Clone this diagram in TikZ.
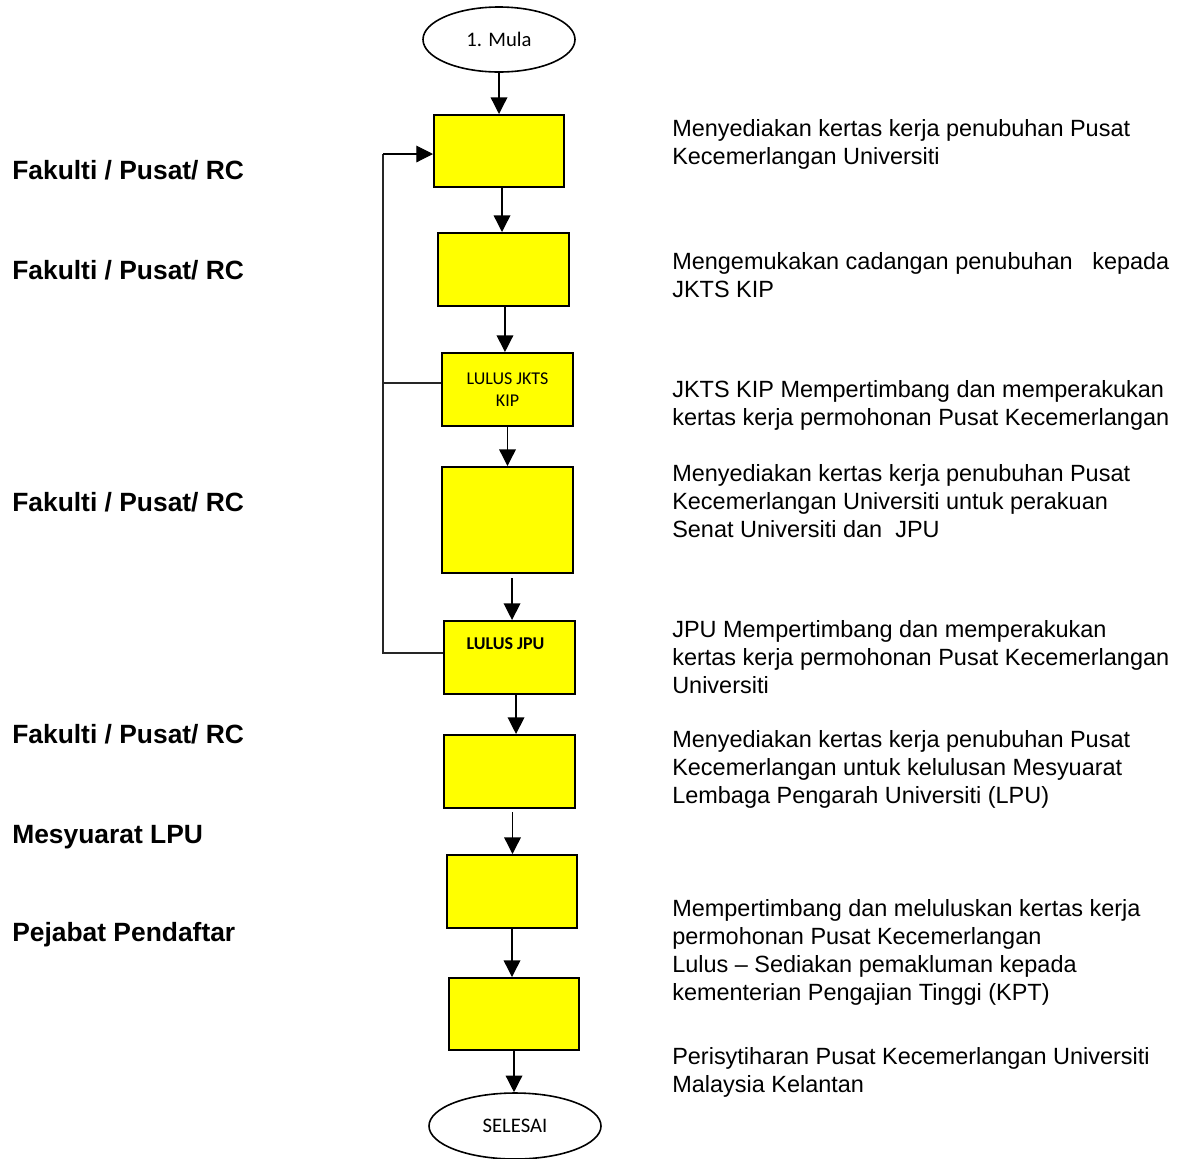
\documentclass[tikz,border=0pt]{standalone}
\usepackage{fontspec}
\setmainfont{Liberation Sans}
\newfontfamily\calib{Carlito}
\usetikzlibrary{arrows.meta,shapes.geometric}
\definecolor{yel}{RGB}{255,255,0}
\begin{document}
\begin{tikzpicture}[x=0.75pt,y=-0.75pt,
  box/.style={draw, fill=yel, line width=1.5pt, inner sep=0pt, font=\calib\fontsize{13.5}{17}\selectfont, align=center},
  term/.style={draw, ellipse, line width=1.2pt, inner sep=0pt, font=\calib\fontsize{15.5}{18}\selectfont},
  arr/.style={line width=1pt, -{Triangle[width=12.5pt,length=12.5pt]}},
  fb/.style={line width=0.8pt, draw=black!85},
  who/.style={anchor=base west, inner sep=0pt, font=\bfseries\fontsize{19.8}{22}\selectfont},
  desc/.style={anchor=base west, inner sep=0pt, align=left, font=\fontsize{17.6}{20.8}\selectfont}]
\useasboundingbox (0,0) rectangle (1191,1158);

% terminals
\node[term, minimum width=114pt, minimum height=48.75pt] (mula) at (499,39.5) {1. Mula};
\node[term, minimum width=129pt, minimum height=49.5pt] (end) at (515,1126) {SELESAI};

% boxes
\node[box, minimum width=97.5pt, minimum height=54pt] (b1) at (499,151) {};
\node[box, minimum width=98.25pt, minimum height=54.75pt] (b2) at (503.5,269.5) {};
\node[box, minimum width=98.25pt, minimum height=54.75pt] (b3) at (507.5,389.5) {LULUS JKTS\\KIP};
\node[box, minimum width=98.25pt, minimum height=79.5pt] (b4) at (507.5,520) {};
\node[box, minimum width=98.25pt, minimum height=54.75pt] (b5) at (509.5,657.5) {};
\node[inner sep=0pt, font=\calib\bfseries\fontsize{13.5}{17}\selectfont] (b5t) at (505.5,644) {LULUS JPU};
\node[box, minimum width=98.25pt, minimum height=54.75pt] (b6) at (509.5,771.5) {};
\node[box, minimum width=97.5pt, minimum height=54.75pt] (b7) at (512,891.5) {};
\node[box, minimum width=97.5pt, minimum height=54pt] (b8) at (514,1014) {};

% main flow
\draw[arr] (mula.south) -- (b1.north);
\draw[arr] ([xshift=2.25pt]b1.south) -- ([xshift=2.25pt]b1.south |- b2.north);
\draw[arr] ([xshift=1.1pt]b2.south) -- ([xshift=1.1pt]b2.south |- b3.north);
\draw[arr] (b3.south) -- (b4.north);
\draw[arr] ([xshift=3.4pt,yshift=-3pt]b4.south) -- ([xshift=3.4pt]b4.south |- b5.north);
\draw[arr] ([xshift=4.9pt]b5.south) -- ([xshift=4.9pt]b5.south |- b6.north);
\draw[arr] ([xshift=2.25pt,yshift=-2.25pt]b6.south) -- ([xshift=2.25pt]b6.south |- b7.north);
\draw[arr] (b7.south) -- (b7.south |- b8.north);
\draw[arr] (b8.south) -- (b8.south |- end.north);

% feedback loop
\coordinate (lp) at (383,0);
\draw[fb] ([yshift=3.4pt]b5.west) -- ([yshift=3.4pt]b5.west -| lp) -- ([yshift=-2.25pt]b1.west -| lp);
\draw[fb] ([yshift=4.9pt]b3.west) -- ([yshift=4.9pt]b3.west -| lp);
\draw[arr, line width=0.8pt] ([yshift=-2.25pt]b1.west -| lp) -- ([yshift=-2.25pt]b1.west);

% responsible parties
\node[who] (w1) at (12,179) {Fakulti / Pusat/ RC};
\node[who] (w2) at (12,279) {Fakulti / Pusat/ RC};
\node[who] (w3) at (12,511) {Fakulti / Pusat/ RC};
\node[who] (w4) at (12,743) {Fakulti / Pusat/ RC};
\node[who] (w5) at (12,843) {Mesyuarat LPU};
\node[who] (w6) at (12,941) {Pejabat Pendaftar};

% descriptions (anchored at the baseline of the last line)
\node[desc] (d1) at (672,164) {Menyediakan kertas kerja penubuhan Pusat\\Kecemerlangan Universiti};
\node[desc] (d2) at (672,297) {Mengemukakan cadangan penubuhan \ \ kepada\\JKTS KIP};
\node[desc] (d3) at (672,425) {JKTS KIP Mempertimbang dan memperakukan\\kertas kerja permohonan Pusat Kecemerlangan};
\node[desc] (d4) at (672,537) {Menyediakan kertas kerja penubuhan Pusat\\Kecemerlangan Universiti untuk perakuan\\Senat Universiti dan \ JPU};
\node[desc] (d5) at (672,693) {JPU Mempertimbang dan memperakukan\\kertas kerja permohonan Pusat Kecemerlangan\\Universiti};
\node[desc] (d6) at (672,803) {Menyediakan kertas kerja penubuhan Pusat\\Kecemerlangan untuk kelulusan Mesyuarat\\Lembaga Pengarah Universiti (LPU)};
\node[desc] (d7) at (672,1000) {Mempertimbang dan meluluskan kertas kerja\\permohonan Pusat Kecemerlangan\\Lulus – Sediakan pemakluman kepada\\kementerian Pengajian Tinggi (KPT)};
\node[desc] (d8) at (672,1092) {Perisytiharan Pusat Kecemerlangan Universiti\\Malaysia Kelantan};
\end{tikzpicture}
\end{document}
